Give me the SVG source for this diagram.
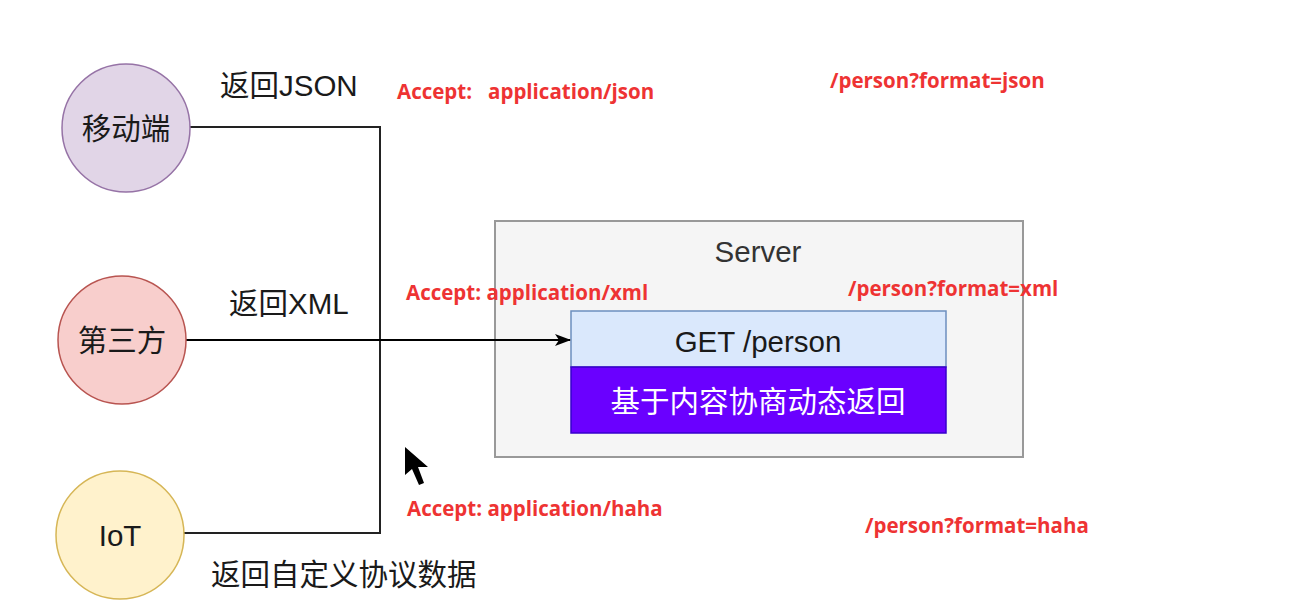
<svg xmlns="http://www.w3.org/2000/svg" width="1314" height="602" viewBox="0 0 1314 602">
<defs>
<marker id="arr" viewBox="0 0 16 12" refX="15" refY="6" markerWidth="16" markerHeight="12" markerUnits="userSpaceOnUse" orient="auto">
<path d="M0,0 L16,6 L0,12 L4,6 Z" fill="#000"/>
</marker>
<style>
.lbl{font-family:"Liberation Sans","Noto Sans CJK SC",sans-serif;font-size:29.5px;fill:#1a1a1a}
.red{font-family:"Open Sans","Liberation Sans",sans-serif;font-weight:bold;font-size:20.5px;fill:#ee3333}
.conn{fill:none;stroke:#222;stroke-width:2}
</style>
</defs>
<rect width="1314" height="602" fill="#ffffff"/>
<g id="server">
<rect x="495" y="221" width="528" height="236" fill="#f5f5f5" stroke="#999999" stroke-width="2"/>
<text x="758" y="262" text-anchor="middle" class="lbl" style="fill:#333">Server</text>
</g>
<g id="get-person">
<rect x="571" y="311" width="375" height="56" fill="#dae8fc" stroke="#6c8ebf" stroke-width="1.5"/>
<text x="758" y="352" text-anchor="middle" class="lbl">GET /person</text>
</g>
<g id="negotiate">
<rect x="571" y="367" width="375" height="66" fill="#6a00ff" stroke="#3700cc" stroke-width="1.5"/>
<text x="758" y="412" text-anchor="middle" class="lbl" style="fill:#ffffff">基于内容协商动态返回</text>
</g>
<g id="connectors">
<polyline class="conn" points="190,127 380,127 380,533 183,533"/>
<line x1="186" y1="340" x2="570" y2="340" stroke="#000" stroke-width="2" marker-end="url(#arr)"/>
</g>
<g id="mobile">
<circle cx="126" cy="128" r="64" fill="#e1d5e7" stroke="#9673a6" stroke-width="1.5"/>
<text x="126" y="139" text-anchor="middle" class="lbl">移动端</text>
</g>
<g id="third">
<circle cx="122" cy="340" r="64" fill="#f8cecc" stroke="#b85450" stroke-width="1.5"/>
<text x="122" y="351" text-anchor="middle" class="lbl">第三方</text>
</g>
<g id="iot">
<circle cx="120" cy="535" r="64" fill="#fff2cc" stroke="#d6b656" stroke-width="1.5"/>
<text x="120" y="546" text-anchor="middle" class="lbl">IoT</text>
</g>
<g id="labels">
<text x="220" y="96" class="lbl">返回JSON</text>
<text x="229" y="314" class="lbl">返回XML</text>
<text x="211" y="585" class="lbl">返回自定义协议数据</text>
<text x="397" y="99" class="red" xml:space="preserve">Accept:   application/json</text>
<text x="406" y="300" class="red">Accept: application/xml</text>
<text x="407" y="516" class="red">Accept: application/haha</text>
<text x="830" y="88" class="red">/person?format=json</text>
<text x="848" y="296" class="red">/person?format=xml</text>
<text x="865" y="533" class="red">/person?format=haha</text>
</g>
<polygon points="405,447 405,475 412,469 419,485 424,483 418,467 428,467" fill="#000"/>
</svg>
